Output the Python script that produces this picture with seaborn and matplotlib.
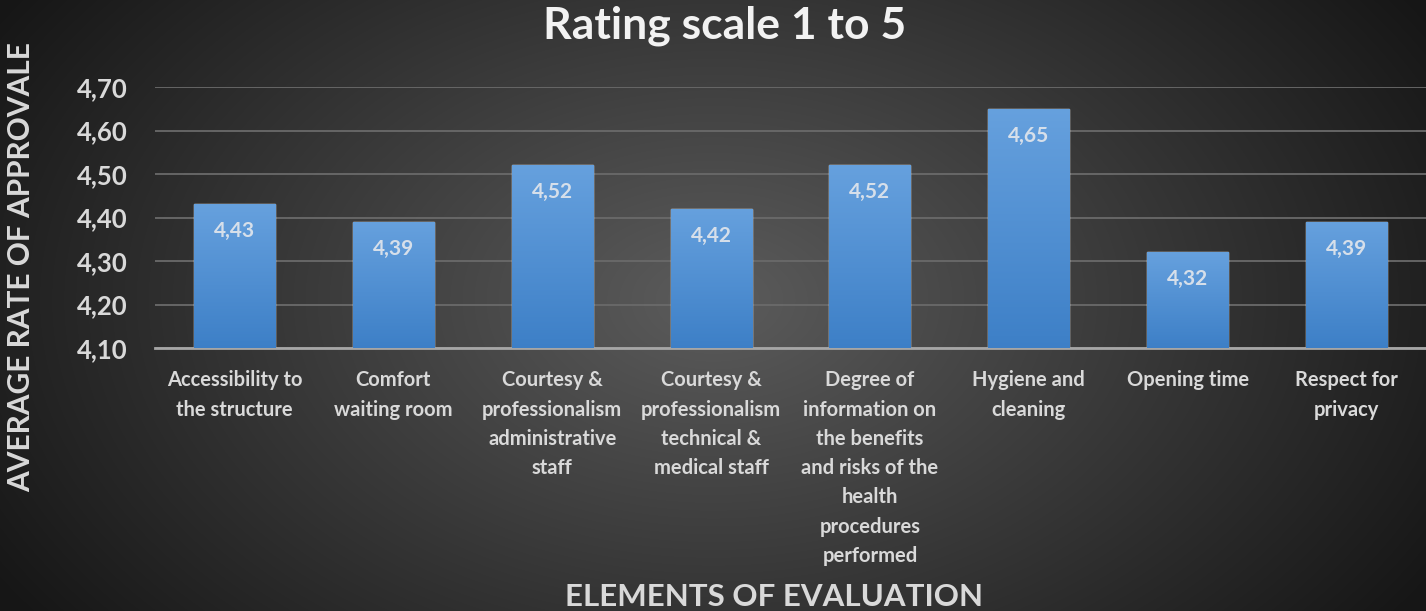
import numpy as np
import pandas as pd
import seaborn as sns
from matplotlib import pyplot as plt

categories = [
    "Accessibility to\nthe structure",
    "Comfort\nwaiting room",
    "Courtesy &\nprofessionalism\nadministrative\nstaff",
    "Courtesy &\nprofessionalism\ntechnical &\nmedical staff",
    "Degree of\ninformation on\nthe benefits\nand risks of the\nhealth\nprocedures\nperformed",
    "Hygiene and\ncleaning",
    "Opening time",
    "Respect for\nprivacy",
]
ratings = [4.43, 4.39, 4.52, 4.42, 4.52, 4.65, 4.32, 4.39]
y_ticks = [4.10, 4.20, 4.30, 4.40, 4.50, 4.60, 4.70]


def comma(v):
    return f"{v:.2f}".replace(".", ",")


sns.set_theme(style="dark")
plt.rcParams["font.family"] = ["Lato", "DejaVu Sans"]
plt.rcParams["font.weight"] = "bold"

df = pd.DataFrame({"Element": categories, "Rating": ratings})

fig = plt.figure(figsize=(14.26, 6.11), dpi=100)

# radial grey background
bg = fig.add_axes([0, 0, 1, 1], zorder=0)
yy, xx = np.mgrid[0:611, 0:1426]
r = np.sqrt(((xx - 713) / 800.0) ** 2 + ((yy - 300) / 520.0) ** 2)
shade = np.clip(0.36 - 0.26 * r, 0.09, 0.36)
bg.imshow(np.dstack([shade] * 3), aspect="auto", extent=[0, 1, 0, 1])
bg.set_axis_off()

ax = fig.add_axes([0.1087, 0.4304, 0.8913, 0.4272], zorder=1)
ax.patch.set_alpha(0)
sns.barplot(data=df, x="Element", y="Rating", color="#5b9bd5", width=0.51,
            saturation=1, ax=ax)

# vertical blue gradient on each bar
grad = np.linspace(0, 1, 100).reshape(-1, 1)
top = np.array([0.40, 0.63, 0.87])
bottom = np.array([0.24, 0.50, 0.78])
img = (top * (1 - grad)[..., None] + bottom * grad[..., None]).reshape(100, 1, 3)
for p, v in zip(ax.patches, ratings):
    x0, w = p.get_x(), p.get_width()
    im = ax.imshow(img, extent=[x0, x0 + w, 4.10, v], aspect="auto", zorder=3)
    im.set_clip_path(p)
    ax.text(x0 + w / 2, v - 0.062, comma(v), ha="center", va="center",
            fontsize=15, color="#d6dfea", fontweight="bold", zorder=4)
ax.set_xlim(-0.5, len(categories) - 0.5)
ax.set_ylim(4.10, 4.70)

ax.set_yticks(y_ticks)
ax.set_yticklabels([comma(t) for t in y_ticks])
ax.yaxis.grid(True, color="#6a6a6a", linewidth=1.3)
ax.set_axisbelow(True)
for s in ["top", "right", "left"]:
    ax.spines[s].set_visible(False)
ax.spines["bottom"].set_color("#a6a6a6")
ax.spines["bottom"].set_linewidth(2)
ax.tick_params(axis="y", length=0, pad=20, labelsize=18.5, labelcolor="#d9d9d9")
ax.tick_params(axis="x", length=0, pad=16, labelsize=14.5, labelcolor="#d9d9d9")
for lbl in ax.get_yticklabels() + ax.get_xticklabels():
    lbl.set_fontweight("bold")
for lbl in ax.get_xticklabels():
    lbl.set_linespacing(1.58)
    lbl.set_va("top")
ax.set_xlabel("")
ax.set_ylabel("")

fig.text(0.508, 0.958, "Rating scale 1 to 5", ha="center", va="center",
         fontsize=32, color="#f2f2f2", fontweight="bold")
fig.text(0.015, 0.563, "AVERAGE RATE OF APPROVALE", ha="center", va="center",
         rotation=90, fontsize=21.5, color="#d9d9d9", fontweight="bold")
fig.text(0.543, 0.023, "ELEMENTS OF EVALUATION", ha="center", va="center",
         fontsize=22.5, color="#d9d9d9", fontweight="bold")

fig.savefig("out.png", dpi=100)
